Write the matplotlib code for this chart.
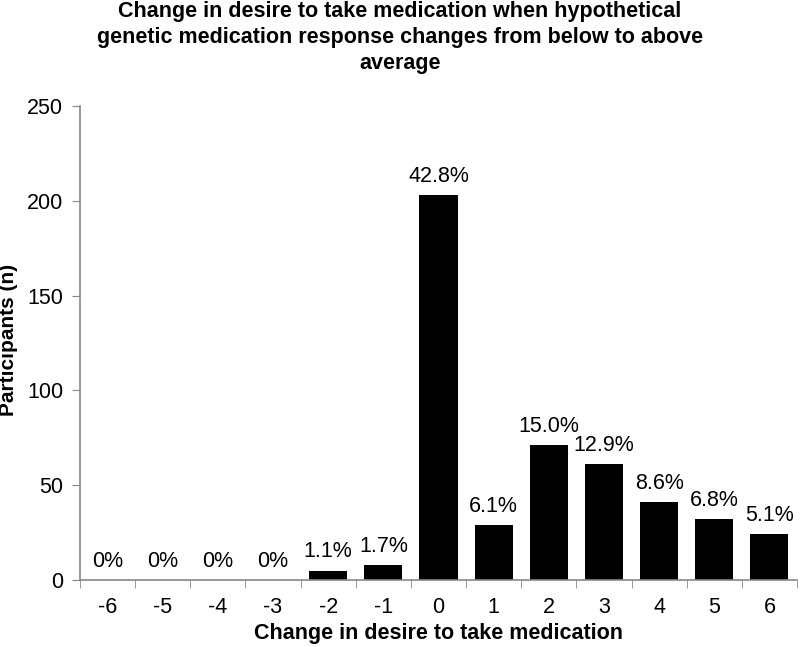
import matplotlib
matplotlib.use("Agg")
import matplotlib.pyplot as plt

categories = ["-6", "-5", "-4", "-3", "-2", "-1", "0", "1", "2", "3", "4", "5", "6"]
participants = [0, 0, 0, 0, 5, 8, 203, 29, 71, 61, 41, 32, 24]
pct_labels = ["0%", "0%", "0%", "0%", "1.1%", "1.7%", "42.8%", "6.1%", "15.0%", "12.9%", "8.6%", "6.8%", "5.1%"]
title_lines = ["Change in desire to take medication when hypothetical",
               "genetic medication response changes from below to above",
               "average"]

plt.rcParams['font.family'] = ['Liberation Sans', 'DejaVu Sans']

W, H = 800, 647
fig = plt.figure(figsize=(W / 100, H / 100), dpi=100)
ax = fig.add_axes([80 / W, 1 - 580 / H, 717 / W, 474 / H])

x = list(range(len(categories)))
ax.bar(x, participants, width=0.69, color='black')
for xi, v, lab in zip(x, participants, pct_labels):
    ax.annotate(lab, (xi, v), xytext=(0, 9.5), textcoords='offset points',
                ha='center', va='baseline', fontsize=15.5)

ax.set_xlim(-0.5, len(categories) - 0.5)
ax.set_ylim(0, 250)
ax.set_yticks([0, 50, 100, 150, 200, 250])
ax.set_xticks(x)
ax.set_xticklabels(categories)
ax.set_xticks([i - 0.5 for i in range(len(categories) + 1)], minor=True)
ax.tick_params(axis='x', which='major', length=0, pad=12, labelsize=15.5)
ax.tick_params(axis='x', which='minor', length=6, color='#888888', direction='out')
ax.tick_params(axis='y', length=6, color='#888888', labelsize=15.5, pad=6)

for s in ['top', 'right']:
    ax.spines[s].set_visible(False)
for s in ['left', 'bottom']:
    ax.spines[s].set_color('#888888')
    ax.spines[s].set_linewidth(1.2)

fig.text((80 + 797) / 2 / W, 1 - 639 / H, "Change in desire to take medication",
         ha='center', va='baseline', fontsize=15.5, fontweight='bold')
fig.text(9 / W, 1 - 340 / H, "Participants (n)", rotation=90,
         ha='center', va='center', fontsize=15, fontweight='bold')

for i, line in enumerate(title_lines):
    fig.text(0.5, 1 - (17 + 26 * i) / H, line, ha='center', va='baseline',
             fontsize=15.5, fontweight='bold')

fig.savefig("out.png", dpi=100)
